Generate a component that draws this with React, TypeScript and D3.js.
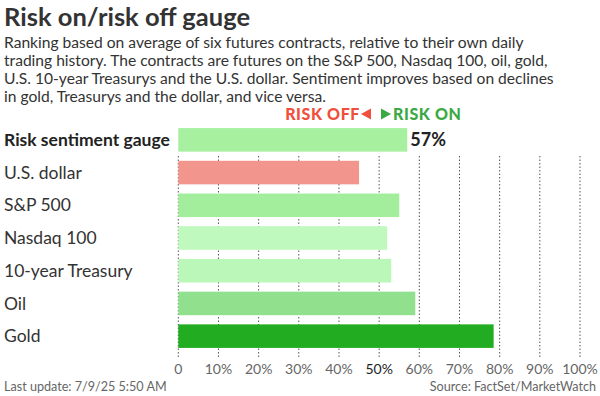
import * as d3 from "d3";

const categories = [
  "Risk sentiment gauge",
  "U.S. dollar",
  "S&P 500",
  "Nasdaq 100",
  "10-year Treasury",
  "Oil",
  "Gold",
];
const values = [57, 45, 55, 52, 53, 59, 78.5];
const barColors = ["#a6f0a0", "#f2958c", "#a3ee9d", "#bff9bd", "#bbf7b9", "#90e08e", "#22ac22"];
const tickValues = [0, 10, 20, 30, 40, 50, 60, 70, 80, 90, 100];

const subtitleLines = [
  "Ranking based on average of six futures contracts, relative to their own daily",
  "trading history. The contracts are futures on the S&P 500, Nasdaq 100, oil, gold,",
  "U.S. 10-year Treasurys and the U.S. dollar. Sentiment improves based on declines",
  "in gold, Treasurys and the dollar, and vice versa.",
];

export default function App() {
  const width = 600;
  const height = 396;
  const marginLeft = 178.3;
  const marginRight = 20;

  const x = d3
    .scaleLinear()
    .domain([0, 100])
    .range([marginLeft, width - marginRight]);

  const y = d3
    .scaleBand()
    .domain(categories)
    .range([123.5, 352.5])
    .paddingInner(0.28)
    .paddingOuter(0.14);

  const gridTop = 156;
  const gridBottom = 357;
  const font = "Lato, 'Open Sans', sans-serif";

  return (
    <svg
      width={width}
      height={height}
      style={{ position: "absolute", left: 0, top: 0, fontFamily: font }}
    >
      <rect width={width} height={height} fill="#fff" />
      {/* title + subtitle */}
      <text x={4} y={26} fontSize={25.5} fontWeight="bold" fill="#333">
        Risk on/risk off gauge
      </text>
      {subtitleLines.map((line, i) => (
        <text key={i} x={4} y={47.5 + i * 18.3} fontSize={15.6} fill="#333">
          {line}
        </text>
      ))}

      {/* legend */}
      <text
        x={360}
        y={119.5}
        fontSize={16}
        fontWeight="900"
        letterSpacing={0.6}
        fill="#ef4f3c"
        textAnchor="end"
      >
        RISK OFF
      </text>
      <path d="M361,114 L371,108.5 L371,119.5 Z" fill="#ef4f3c" />
      <path d="M381,108.5 L391,114 L381,119.5 Z" fill="#3ba943" />
      <text x={393} y={119.5} fontSize={16} fontWeight="900" letterSpacing={0.6} fill="#3ba943">
        RISK ON
      </text>

      {/* gridlines */}
      {tickValues.map((t) => (
        <line
          key={t}
          x1={x(t)}
          x2={x(t)}
          y1={gridTop}
          y2={gridBottom}
          stroke="#555"
          strokeWidth={1}
          strokeDasharray="1.5 2"
        />
      ))}

      {/* bars */}
      {categories.map((c, i) => (
        <g key={c}>
          <rect
            x={x(0)}
            y={y(c)}
            width={x(values[i]) - x(0)}
            height={y.bandwidth()}
            fill={barColors[i]}
          />
          <text
            x={4}
            y={(y(c) ?? 0) + y.bandwidth() / 2}
            dy="0.35em"
            fontSize={17.5}
            fontWeight={i === 0 ? "bold" : "normal"}
            fill={i === 0 ? "#222" : "#333"}
          >
            {c}
          </text>
        </g>
      ))}
      <text
        x={x(values[0]) + 3}
        y={(y(categories[0]) ?? 0) + y.bandwidth() / 2}
        dy="0.35em"
        fontSize={18}
        fontWeight="bold"
        fill="#222"
      >
        {`${values[0]}%`}
      </text>

      {/* axis labels */}
      {tickValues.map((t) => (
        <text
          key={t}
          x={x(t)}
          y={373.5}
          fontSize={14}
          textAnchor="middle"
          fill={t === 50 ? "#222" : "#666"}
        >
          {t === 0 ? "0" : `${t}%`}
        </text>
      ))}

      {/* footer */}
      <text x={4} y={391} fontSize={12.6} fill="#666">
        Last update: 7/9/25 5:50 AM
      </text>
      <text x={596} y={391} fontSize={12.6} fill="#666" textAnchor="end">
        Source: FactSet/MarketWatch
      </text>
    </svg>
  );
}
